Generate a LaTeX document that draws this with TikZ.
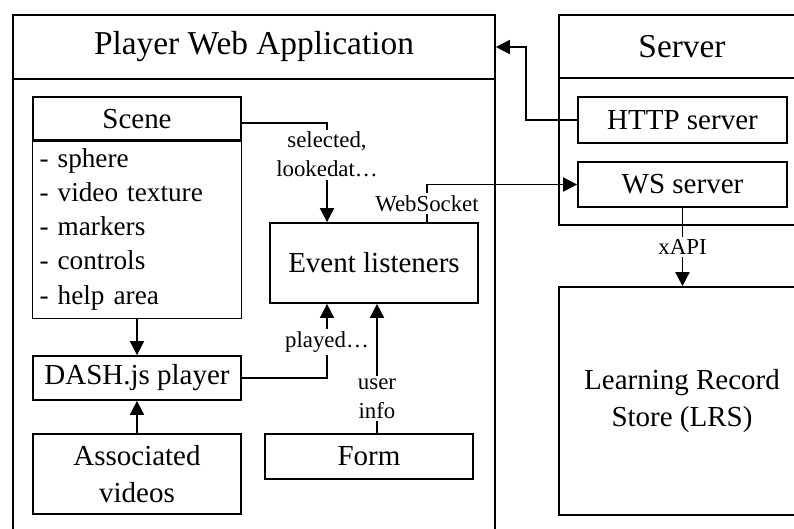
\documentclass[tikz,border=0pt]{standalone}
\usepackage{fontspec}
\setmainfont{Liberation Serif}
\usetikzlibrary{arrows.meta, positioning, calc}

\begin{document}
\begin{tikzpicture}[
            >={Triangle[length=8pt, width=8pt]},
            % one unit is one pixel of the 794x528 sketch
            x=0.02cm, y=-0.02cm,
            % outer containers (header band + body), thin black frame
            hdr/.style  ={draw, line width=1pt, minimum width=9.64cm, minimum height=1.28cm,
                    inner sep=0pt, font=\fontsize{19}{22}\selectfont},
            body/.style ={draw, line width=1pt, minimum width=9.64cm, inner sep=0pt},
            box/.style  ={draw, line width=1pt, minimum width=4.16cm, align=center,
                    inner sep=0pt, font=\fontsize{16.5}{21}\selectfont},
            lbl/.style  ={fill=white, align=center, inner sep=1.5pt,
                    font=\fontsize{13}{16.5}\selectfont},
            up/.style   ={->, line width=1pt}
        ]
        \useasboundingbox (0,0) rectangle (794,528);
        \clip (0,0) rectangle (794,528);

        % player web application (its frame runs off the bottom edge)
        \node[hdr]  (player)     at (254,47)    {Player Web Application};
        \node[body, minimum height=9.22cm] (playerbody) at (254,309.5) {};

        % server (runs off the right edge)
        \node[hdr, minimum width=4.92cm, minimum height=1.26cm] (server) at (682,46.5) {Server};
        \node[body, minimum width=4.92cm, minimum height=2.94cm] (serverbody) at (682,151.5) {};
        \node[box, minimum height=0.92cm, minimum width=4.18cm] (http) at (682.5,120)   {HTTP server};
        \node[box, minimum height=0.9cm, minimum width=4.18cm]  (ws)   at (682.5,184.5) {WS server};
        \node[box, minimum width=4.92cm, minimum height=4.56cm] (lrs) at (682,401)
              {Learning Record\\ Store (LRS)};

        % inside the player
        \node[box, minimum height=0.88cm] (scene)     at (137,119)   {Scene};
        \node[box, minimum height=3.58cm, text width=3.9cm, align=left, inner xsep=4pt,
              font=\fontsize{15.5}{19.5}\selectfont] (scenelist) at (137,229)
              {- sphere\\ - video texture\\ - markers\\ - controls\\ - help area};
        \node[box, minimum height=0.88cm] (dash)      at (137,378)   {DASH.js player};
        \node[box, minimum height=1.6cm]  (videos)    at (137,474)   {Associated\\ videos};
        \node[box, minimum height=1.6cm]  (event)     at (374,263)   {Event listeners};
        \node[box, minimum height=0.9cm]  (form)      at (369,456.5) {Form};

        \draw[up] (scenelist.south) -- (dash.north);
        \draw[up] (videos.north)    -- (dash.south);
        \draw[up] ([yshift=-0.08cm]scene.east) -| node[lbl, pos=0.66]{selected,\\ lookedat\dots}
              ([xshift=-0.94cm]event.north);
        \draw[up] (dash.east) -| node[lbl, pos=0.74]{played\dots}
              ([xshift=-0.94cm]event.south);
        \draw[up] ([xshift=0.16cm]form.north) -- node[lbl, pos=0.27]{user\\ info}
              ([xshift=0.16cm]form.north |- event.south);
        \draw[up] ([xshift=1.06cm]event.north) |- node[lbl, pos=0.25]{WebSocket} (ws.west);
        \draw[up] (http.west) -- ++(-1.02cm,0) |- (player.east);
        \draw[up] (ws.south) -- node[lbl]{xAPI} (ws.south |- lrs.north);

    \end{tikzpicture}
\end{document}
